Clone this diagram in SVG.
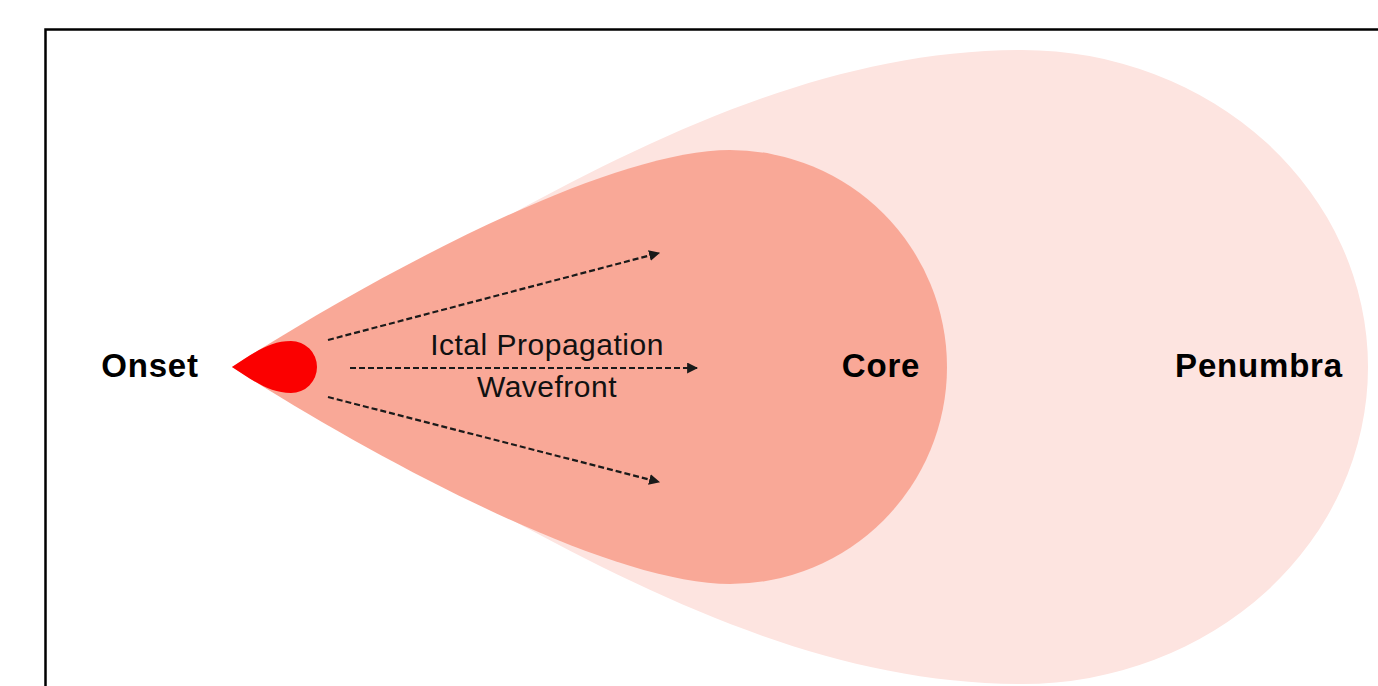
<svg xmlns="http://www.w3.org/2000/svg" width="1378" height="686" viewBox="0 0 1378 686">
  <style>
    .label { font-family: "Liberation Sans", Arial, sans-serif; font-weight: bold; font-size: 33px; letter-spacing: 0.8px; fill: #000; text-anchor: middle; }
    .wave { font-family: "Liberation Sans", Arial, sans-serif; font-size: 30px; letter-spacing: 0.5px; fill: #111; text-anchor: middle; }
    .conn { fill: none; stroke: #1a1a1a; stroke-width: 2.2; stroke-dasharray: 6 3; marker-end: url(#arrow); }
  </style>
  <defs>
    <marker id="arrow" viewBox="0 0 10 10" refX="9" refY="5" markerWidth="5" markerHeight="5" markerUnits="strokeWidth" orient="auto">
      <path d="M0,0 L10,5 L0,10 Z" fill="#1a1a1a"/>
    </marker>
  </defs>
  <rect x="0" y="0" width="1378" height="686" fill="#ffffff"/>
  <rect x="45.5" y="29.5" width="1400" height="700" fill="none" stroke="#000" stroke-width="2.5"/>

  <g id="penumbra">
    <path d="M232,367 C470,250 730,50 1022,50 A346,317 0 0 1 1368,367 A346,317 0 0 1 1022,684 C730,684 470,484 232,367 Z" fill="#fde4e0"/>
    <text class="label" x="1259" y="377">Penumbra</text>
  </g>

  <g id="core">
    <path d="M232,367 C382,271 610,150 730,150 A217,217 0 0 1 947,367 A217,217 0 0 1 730,584 C610,584 382,463 232,367 Z" fill="#f9a897"/>
    <text class="label" x="881" y="377">Core</text>
  </g>

  <g id="onset">
    <path d="M232,367 C255,352 270,341 291,341 A26,26 0 0 1 291,393 C270,393 255,382 232,367 Z" fill="#fb0000"/>
    <text class="label" x="150" y="377">Onset</text>
  </g>

  <g id="connectors">
    <line class="conn" x1="328" y1="340" x2="659" y2="253"/>
    <line class="conn" x1="350" y1="368" x2="697" y2="368"/>
    <line class="conn" x1="328" y1="397" x2="659" y2="482"/>
  </g>

  <g id="wavefront-label">
    <text class="wave" x="547" y="355">Ictal Propagation</text>
    <text class="wave" x="547" y="397">Wavefront</text>
  </g>
</svg>
